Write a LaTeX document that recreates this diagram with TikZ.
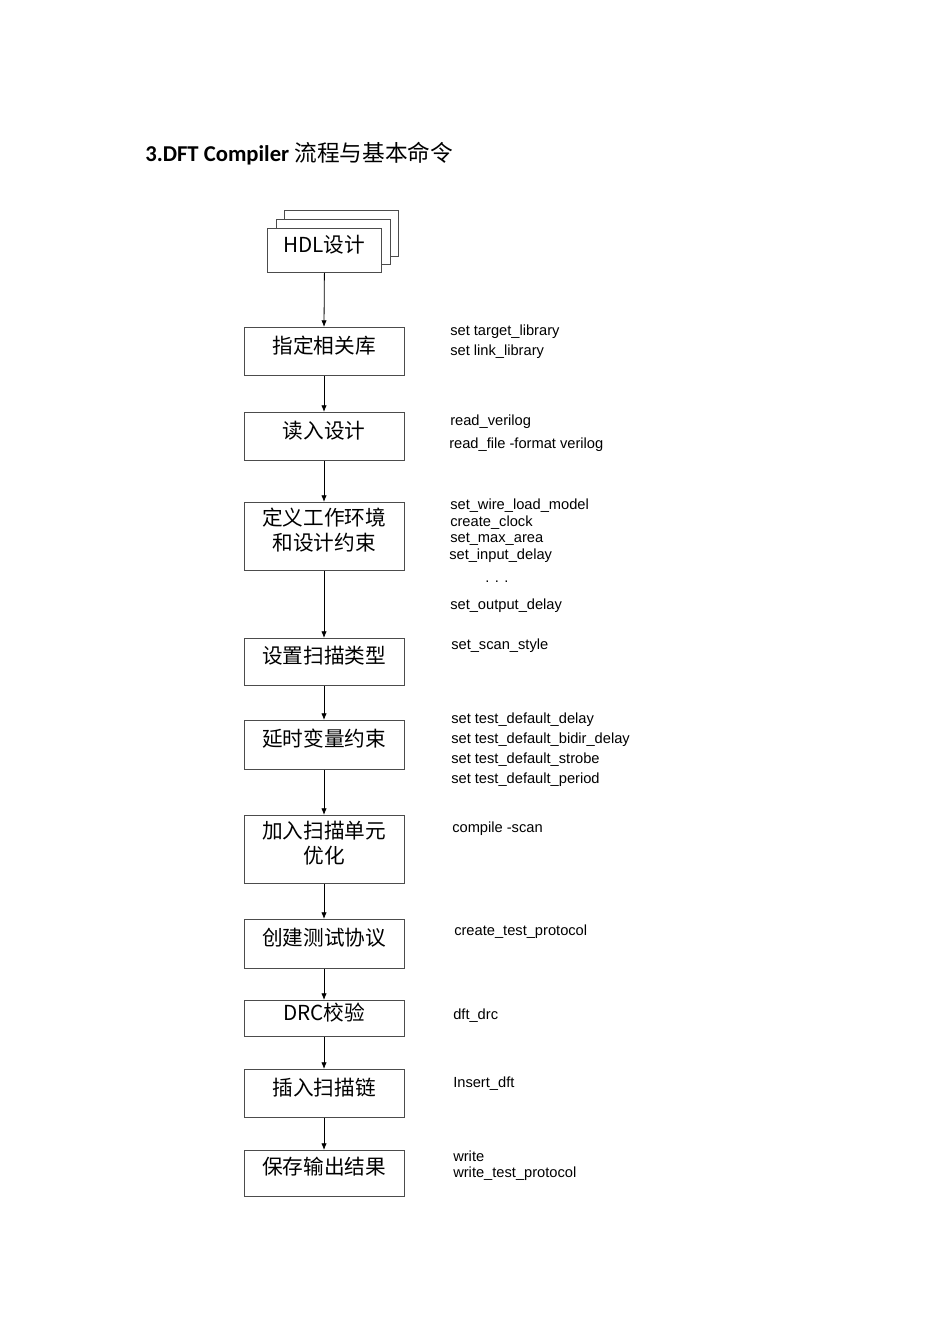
\documentclass[tikz,border=0pt]{standalone}
\usepackage{fontspec}
\usetikzlibrary{arrows.meta}
\setmainfont{Liberation Sans}
\newfontfamily\cjk{Noto Sans CJK SC}
\newfontfamily\carl{Carlito}
\begin{document}
\begin{tikzpicture}[x=0.75pt,y=-0.75pt,
 box/.style={draw=black!70,line width=0.6pt,minimum width=160*0.75pt,inner sep=0pt,font=\cjk\fontsize{15.5}{19}\selectfont,align=center,fill=white},
 lbl/.style={anchor=west,font=\fontsize{11}{13}\selectfont,inner sep=0pt},
 arr/.style={-{Latex[length=5pt,width=4pt]},line width=0.6pt}]
\useasboundingbox (0,0) rectangle (950,1344);
\node[anchor=west,inner sep=0pt] (title) at (145,154) {\carl\bfseries\fontsize{17}{20}\selectfont 3.DFT Compiler \cjk\mdseries 流程与基本命令};
% stacked HDL
\draw[black!70,fill=white] (284,210) rectangle (398,256);
\draw[black!70,fill=white] (276,219) rectangle (390,264);
\node[box,minimum width=114*0.75pt,minimum height=44*0.75pt,anchor=north west] (hdl) at (267,228) {};
\node[font=\cjk\fontsize{15.5}{19}\selectfont] at (324,245) {HDL设计};
\node[box,minimum height=48*0.75pt,anchor=north] (b1) at (324,327) {};
\node[box,draw=none,fill=none] at (324,346) {指定相关库};
\node[box,minimum height=48*0.75pt,anchor=north] (b2) at (324,412) {};
\node[box,draw=none,fill=none] at (324,431) {读入设计};
\node[box,minimum height=68*0.75pt,anchor=north] (b3) at (324,502) {};
\node[box,draw=none,fill=none] at (324,530) {定义工作环境\\和设计约束};
\node[box,minimum height=47*0.75pt,anchor=north] (b4) at (324,638) {};
\node[box,draw=none,fill=none] at (324,656) {设置扫描类型};
\node[box,minimum height=49*0.75pt,anchor=north] (b5) at (324,720) {};
\node[box,draw=none,fill=none] at (324,739) {延时变量约束};
\node[box,minimum height=68*0.75pt,anchor=north] (b6) at (324,815) {};
\node[box,draw=none,fill=none] at (324,843) {加入扫描单元\\优化};
\node[box,minimum height=49*0.75pt,anchor=north] (b7) at (324,919) {};
\node[box,draw=none,fill=none] at (324,938) {创建测试协议};
\node[box,minimum height=36*0.75pt,anchor=north] (b8) at (324,1000) {};
\node[box,draw=none,fill=none] at (324,1013) {DRC校验};
\node[box,minimum height=48*0.75pt,anchor=north] (b9) at (324,1069) {};
\node[box,draw=none,fill=none] at (324,1088) {插入扫描链};
\node[box,minimum height=46*0.75pt,anchor=north] (b10) at (324,1150) {};
\node[box,draw=none,fill=none] at (324,1167) {保存输出结果};
\draw[arr] (hdl.south) -- (b1.north);
\foreach \a/\b in {b1/b2,b2/b3,b3/b4,b4/b5,b5/b6,b6/b7,b7/b8,b8/b9,b9/b10}
 \draw[arr] (\a.south) -- (\b.north);
% labels
\node[lbl] (l1) at (450,332) {set target\_library};
\node[lbl] (l2) at (450,352) {set link\_library};
\node[lbl] (l3) at (450,422) {read\_verilog};
\node[lbl] (l4) at (449,445) {read\_file -format verilog};
\node[lbl] (l5) at (450,506) {set\_wire\_load\_model};
\node[lbl] (l6) at (450,523) {create\_clock};
\node[lbl] (l7) at (450,539) {set\_max\_area};
\node[lbl] (l8) at (449,556) {set\_input\_delay};
\node[lbl] (l9) at (485,582) {. . .};
\node[lbl] (l10) at (450,606) {set\_output\_delay};
\node[lbl] (l11) at (451,646) {set\_scan\_style};
\node[lbl] (l12) at (451,720) {set test\_default\_delay};
\node[lbl] (l13) at (451,740) {set test\_default\_bidir\_delay};
\node[lbl] (l14) at (451,760) {set test\_default\_strobe};
\node[lbl] (l15) at (451,780) {set test\_default\_period};
\node[lbl] (l16) at (452,829) {compile -scan};
\node[lbl] (l17) at (454,932) {create\_test\_protocol};
\node[lbl] (l18) at (453,1016) {dft\_drc};
\node[lbl] (l19) at (453,1084) {Insert\_dft};
\node[lbl] (l20) at (453,1156) {write};
\node[lbl] (l21) at (453,1174) {write\_test\_protocol};
\end{tikzpicture}
\end{document}
